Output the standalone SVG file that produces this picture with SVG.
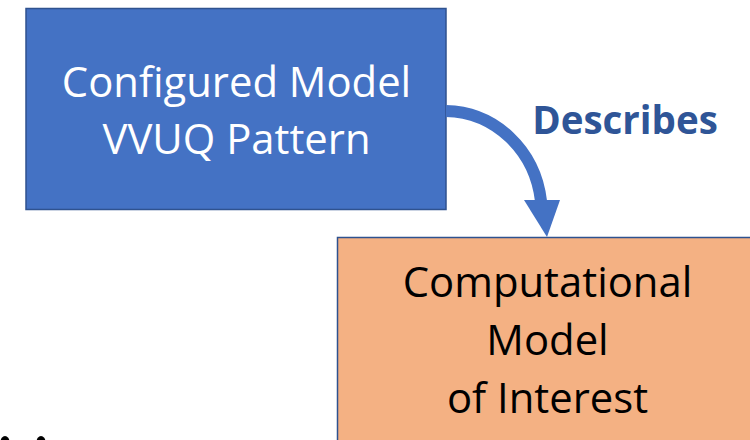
<svg xmlns="http://www.w3.org/2000/svg" width="750" height="440" viewBox="0 0 750 440">
  <defs>
    <style>
      .box-text { font-family: "Open Sans", "Liberation Sans", sans-serif; font-size: 41.8px; text-anchor: middle; }
      .label { font-family: "Open Sans", "Liberation Sans", sans-serif; font-size: 38.5px; font-weight: bold; fill: #2F5597; }
      .edge { fill: none; stroke: #4472C4; stroke-width: 12; }
    </style>
  </defs>
  <rect width="750" height="440" fill="#FFFFFF"/>

  <g id="configured-model">
    <rect x="26" y="8.5" width="420" height="201" fill="#4472C4" stroke="#2F528F" stroke-width="1.5"/>
    <text class="box-text" x="236.5" y="97" fill="#FFFFFF">Configured Model</text>
    <text class="box-text" x="236.5" y="154" fill="#FFFFFF">VVUQ Pattern</text>
  </g>

  <g id="computational-model">
    <rect x="337.5" y="237.5" width="420" height="210" fill="#F4B183" stroke="#2F528F" stroke-width="1.5"/>
    <text class="box-text" x="547.5" y="297" fill="#000000">Computational</text>
    <text class="box-text" x="547.5" y="355" fill="#000000">Model</text>
    <text class="box-text" x="547.5" y="413" fill="#000000">of Interest</text>
  </g>

  <g id="connectors">
    <path class="edge" d="M446,111 C495,112 535,150 541,201"/>
    <polygon points="524,200 560,200 547,237" fill="#4472C4"/>
    <text class="label" x="625" y="134" text-anchor="middle">Describes</text>
  </g>

  <!-- dark marks at the lower-left edge -->
  <ellipse cx="5" cy="442" rx="4.5" ry="6" fill="#000000"/>
  <ellipse cx="41" cy="442" rx="4.5" ry="6" fill="#000000"/>
</svg>
